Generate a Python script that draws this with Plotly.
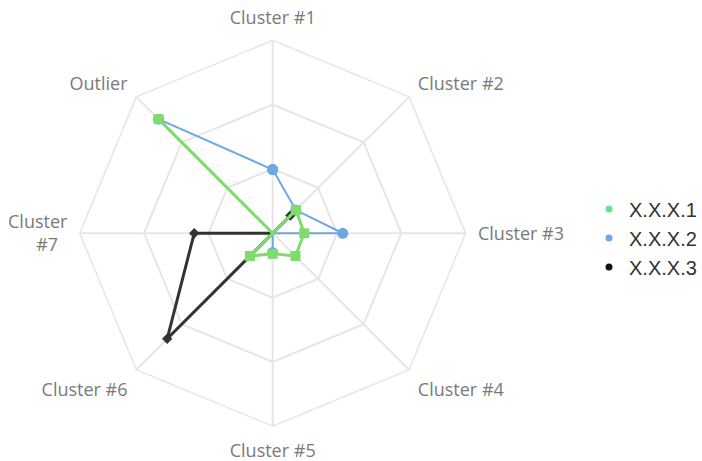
import plotly.graph_objects as go

categories = ["Cluster #1", "Cluster #2", "Cluster #3", "Cluster #4",
              "Cluster #5", "Cluster #6", "Cluster<br>#7  ", "Outlier"]
series_names = ["X.X.X.1", "X.X.X.2", "X.X.X.3"]
values_1 = [0.0, 0.51, 0.49, 0.50, 0.32, 0.50, 0.0, 2.51]
values_2 = [0.99, 0.51, 1.09, 0.0, 0.30, 0.0, 0.0, 2.51]
values_3 = [0.0, 0.39, 0.0, 0.0, 0.0, 2.32, 1.22, 0.0]
radial_ticks = [1, 2, 3]

green = "#7ddc6b"
blue = "#6ea8e0"
black = "#333333"
legend_colors = ["#5ee890", "#6ea8e0", "#111111"]

def closed(v):
    return list(v) + [v[0]]

theta = closed(categories)

fig = go.Figure()
fig.add_trace(go.Scatterpolar(r=closed(values_3), theta=theta, mode="lines+markers",
                              line=dict(color=black, width=3),
                              marker=dict(symbol="diamond", size=8, color=black),
                              showlegend=False, name=series_names[2]))
fig.add_trace(go.Scatterpolar(r=closed(values_2), theta=theta, mode="lines+markers",
                              line=dict(color=blue, width=2),
                              marker=dict(symbol="circle", size=11, color=blue),
                              showlegend=False, name=series_names[1]))
fig.add_trace(go.Scatterpolar(r=closed(values_1), theta=theta, mode="lines+markers",
                              line=dict(color=green, width=3),
                              marker=dict(symbol="square", size=10, color=green),
                              showlegend=False, name=series_names[0]))

for name, col in zip(series_names, legend_colors):
    fig.add_trace(go.Scatterpolar(r=[None], theta=[categories[0]], mode="markers",
                                  marker=dict(size=7, color=col), name=name,
                                  showlegend=True))

fig.update_layout(
    width=702, height=461,
    margin=dict(l=0, r=0, t=0, b=0),
    paper_bgcolor="white",
    plot_bgcolor="white",
    polar=dict(
        domain=dict(x=[0.1135, 0.6645], y=[0.0755, 0.9125]),
        gridshape="linear",
        bgcolor="white",
        angularaxis=dict(
            direction="clockwise", rotation=90,
            showline=True, linecolor="#e6e6e6", linewidth=1.5,
            gridcolor="#e6e6e6", gridwidth=1.5,
            ticks="outside", ticklen=8, tickcolor="rgba(0,0,0,0)",
            tickfont=dict(family="Open Sans", size=18, color="#7a7a7a"),
        ),
        radialaxis=dict(
            range=[0, 3], tickvals=radial_ticks, showticklabels=False,
            ticks="", showline=False,
            gridcolor="#e6e6e6", gridwidth=1.5,
        ),
    ),
    legend=dict(
        x=0.8405, y=0.484, xanchor="left", yanchor="middle",
        font=dict(family="Liberation Sans", size=20, color="#333333"),
        itemwidth=30, tracegroupgap=0,
        bgcolor="rgba(0,0,0,0)",
    ),
)

fig.write_html("out.html", config={"displayModeBar": False},
               post_script="document.body.style.margin='0';document.body.style.padding='0';")
